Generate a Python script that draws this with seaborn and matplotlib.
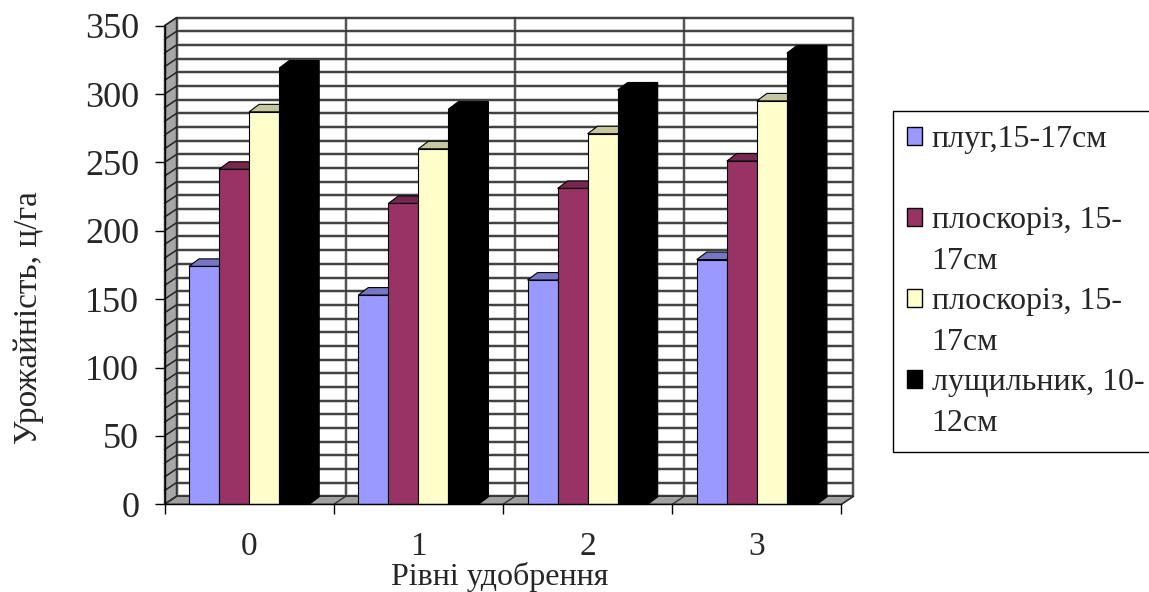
import matplotlib
matplotlib.use("Agg")
import matplotlib.pyplot as plt
import matplotlib.colors as mcolors
from matplotlib.patches import Polygon, Patch
import pandas as pd
import seaborn as sns

# Fertilizer levels (x categories)
levels = ["0", "1", "2", "3"]

# Yield, c/ha, for each tillage method
plug = [174, 153, 164, 179]
ploskoriz_1 = [245, 220, 231, 251]
ploskoriz_2 = [287, 260, 271, 295]
lushchylnyk = [319, 289, 303, 330]

series_values = [plug, ploskoriz_1, ploskoriz_2, lushchylnyk]
legend_rows = [
    ("плуг,15-17см", ""),
    ("плоскоріз, 15-", "17см"),
    ("плоскоріз, 15-", "17см"),
    ("лущильник, 10-", "12см"),
]
colors = ["#9999FF", "#993366", "#FFFFCC", "#000000"]
y_ticks = [0, 50, 100, 150, 200, 250, 300, 350]

rows = []
for k, vals in enumerate(series_values):
    for lev, v in zip(levels, vals):
        rows.append({"level": lev, "series": k, "value": v})
df = pd.DataFrame(rows)

sns.set_style("white")
plt.rcParams["font.family"] = ["Liberation Serif", "DejaVu Serif"]

W, H = 1149, 592
fig = plt.figure(figsize=(W / 100, H / 100), dpi=100)
# plot area in pixels (front plane)
L, R, B, T = 164.5, 841.5, 504.3, 25.7
ax = fig.add_axes([L / W, 1 - B / H, (R - L) / W, (B - T) / H])

sns.barplot(data=df, x="level", y="value", hue="series", order=levels,
            hue_order=[0, 1, 2, 3], palette=colors, width=0.71, saturation=1,
            edgecolor="black", linewidth=0.8, legend=False, ax=ax)
bars = list(ax.patches)

ax.set_xlim(-0.5, 3.5)
ax.set_ylim(0, 350)

# pixel -> data conversions for the pseudo-3D depth
px_x = (R - L) / 4.0
px_y = (B - T) / 350.0
wdx, wdy = 12 / px_x, 8 / px_y      # wall depth
bdx, bdy = 10 / px_x, 7.5 / px_y    # bar depth

x0w, x1w = -0.5, 3.5

# back wall grid
for v in range(0, 351, 10):
    ax.plot([x0w + wdx, x1w + wdx], [v + wdy, v + wdy], color="#C8C8C8",
            lw=2.6, zorder=0.5, clip_on=False, solid_capstyle="butt")
    ax.plot([x0w + wdx, x1w + wdx], [v + wdy, v + wdy], color="#1A1A1A",
            lw=1.1, zorder=0.6, clip_on=False, solid_capstyle="butt")
for b in [-0.5, 0.5, 1.5, 2.5, 3.5]:
    ax.plot([b + wdx, b + wdx], [wdy, 350 + wdy], color="#C8C8C8",
            lw=2.6, zorder=0.5, clip_on=False)
    ax.plot([b + wdx, b + wdx], [wdy, 350 + wdy], color="#333333",
            lw=1.1, zorder=0.6, clip_on=False)

# left side wall
side_wall = Polygon([(x0w, 0), (x0w + wdx, wdy), (x0w + wdx, 350 + wdy), (x0w, 350)],
                    closed=True, facecolor="#A6A6A6", edgecolor="#333333",
                    lw=1.0, zorder=1.0, clip_on=False)
ax.add_patch(side_wall)
for v in range(0, 351, 10):
    ax.plot([x0w, x0w + wdx], [v, v + wdy], color="#222222", lw=1.1,
            zorder=1.1, clip_on=False)

# floor
floor = Polygon([(x0w, 0), (x1w, 0), (x1w + wdx, wdy), (x0w + wdx, wdy)],
                closed=True, facecolor="#A0A0A0", edgecolor="#333333",
                lw=1.0, zorder=1.0, clip_on=False)
ax.add_patch(floor)
for b in [-0.5, 0.5, 1.5, 2.5, 3.5]:
    ax.plot([b, b + wdx], [0, wdy], color="#333333", lw=1.0, zorder=1.1,
            clip_on=False)


def shade(c, f):
    r, g, b_ = mcolors.to_rgb(c)
    return (r * f, g * f, b_ * f)


# 3D faces for the bars (left to right so neighbours overlap correctly)
for i, p in enumerate(sorted(bars, key=lambda q: q.get_x())):
    x0, w, h = p.get_x(), p.get_width(), p.get_height()
    fc = p.get_facecolor()
    z = 2 + i * 0.03
    side = Polygon([(x0 + w, 0), (x0 + w + bdx, bdy), (x0 + w + bdx, h + bdy), (x0 + w, h)],
                   closed=True, facecolor=shade(fc, 0.6), edgecolor="black",
                   lw=0.8, zorder=z, clip_on=False)
    top = Polygon([(x0, h), (x0 + w, h), (x0 + w + bdx, h + bdy), (x0 + bdx, h + bdy)],
                  closed=True, facecolor=shade(fc, 0.78), edgecolor="black",
                  lw=0.8, zorder=z + 0.01, clip_on=False)
    ax.add_patch(side)
    ax.add_patch(top)
    p.set_zorder(z + 0.02)
    p.set_clip_on(False)

# axes frame
for s in ["top", "right"]:
    ax.spines[s].set_visible(False)
for s in ["left", "bottom"]:
    ax.spines[s].set_color("black")
    ax.spines[s].set_linewidth(1.0)
    ax.spines[s].set_zorder(5)

ax.set_yticks(y_ticks)
ax.tick_params(axis="y", which="major", left=True, direction="out", length=7.2,
               width=1, color="black", labelsize=26, pad=11)
ax.set_xticks(range(len(levels)))
ax.set_xticklabels(levels)
ax.set_xticks([-0.5, 0.5, 1.5, 2.5, 3.5], minor=True)
ax.tick_params(axis="x", which="major", bottom=False, length=0, labelsize=24, pad=19.5)
ax.tick_params(axis="x", which="minor", bottom=True, direction="out", length=7.2,
               width=1, color="black")
ax.grid(False)

ax.set_ylabel("Урожайність, ц/га", fontsize=24)
ax.yaxis.label.set_va("center")
ax.yaxis.set_label_coords(-0.2, 0.39)
ax.set_xlabel("Рівні удобрення", fontsize=23)
ax.xaxis.label.set_va("center")
ax.xaxis.set_label_coords(0.495, -0.151)

# legend: one row per text line, marker on the first line of each entry
handles, labels = [], []
for c, (first, second) in zip(colors, legend_rows):
    handles.append(Patch(facecolor=c, edgecolor="black", lw=1.0))
    labels.append(first)
    handles.append(Patch(facecolor="none", edgecolor="none"))
    labels.append(second if second else " ")
leg = ax.legend(handles, labels, loc="upper left",
                bbox_to_anchor=(892.7 / W, 1 - 110.7 / H),
                bbox_transform=fig.transFigure, borderaxespad=0,
                prop={"family": "Liberation Serif", "size": 23},
                frameon=True, fancybox=False, shadow=False, framealpha=1,
                edgecolor="black", handlelength=0.47, handleheight=0.47,
                handletextpad=0.3, labelspacing=0.36, borderpad=0.45)
leg.get_frame().set_linewidth(1.0)

fig.savefig("out.png", dpi=100, facecolor="white")
